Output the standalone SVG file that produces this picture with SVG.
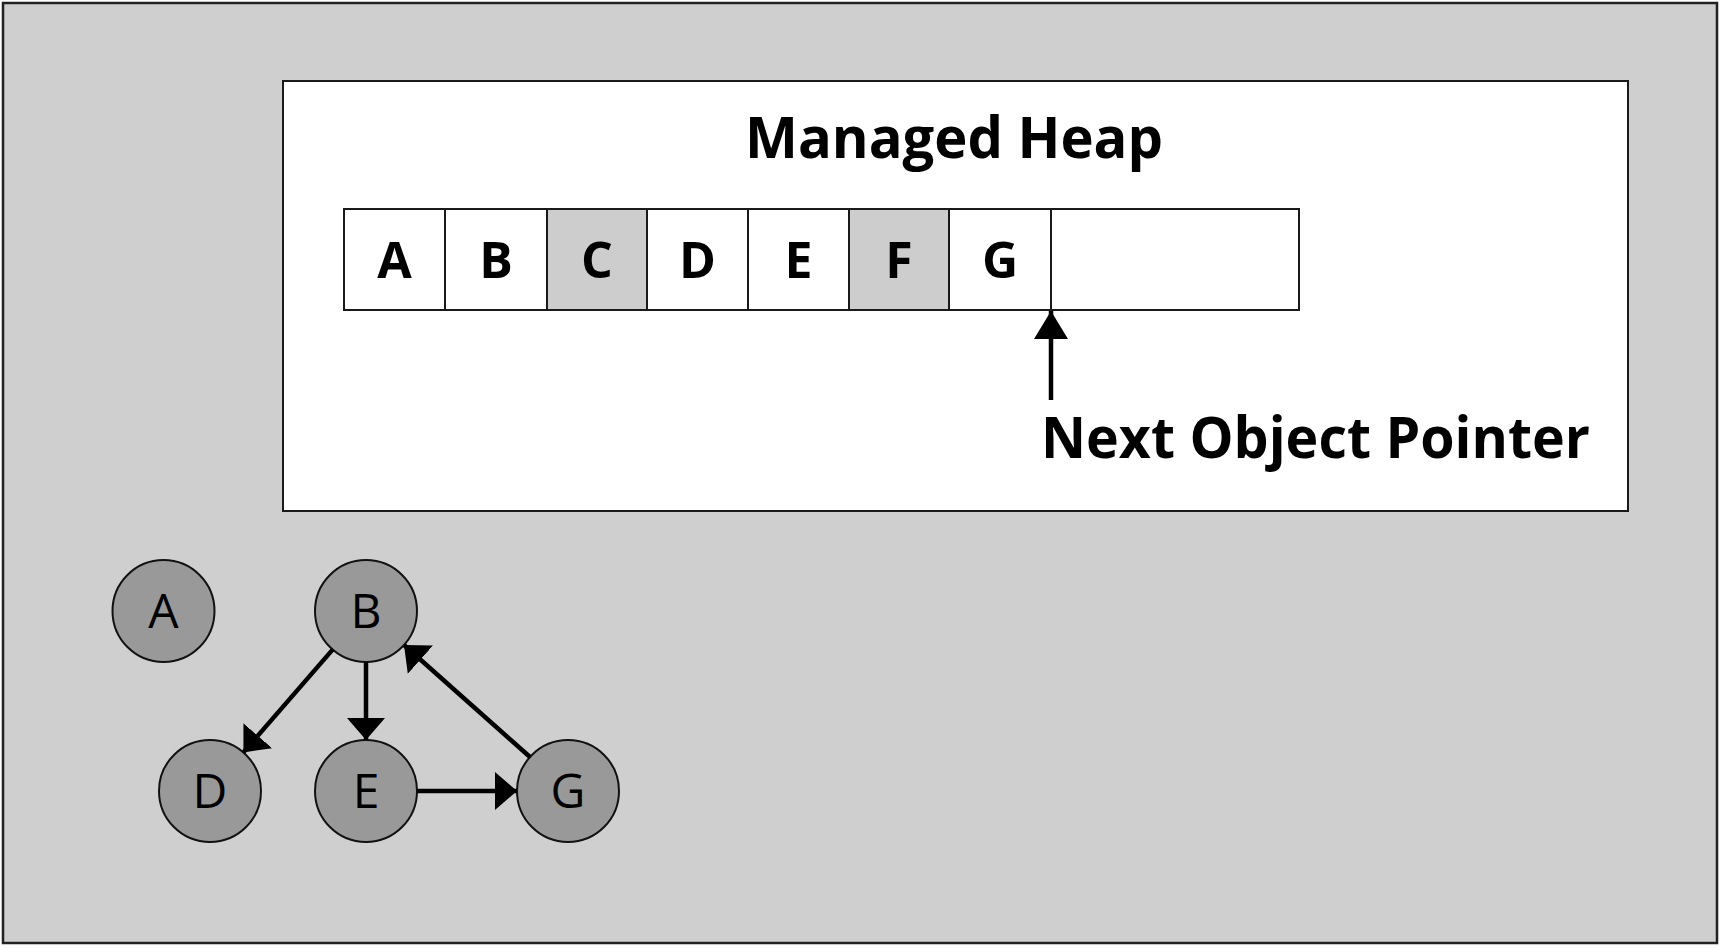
<svg xmlns="http://www.w3.org/2000/svg" width="1725" height="948" viewBox="0 0 1725 948">
<style>
.cell{fill:#ffffff;stroke:#1a1a1a;stroke-width:2}
.cell.g{fill:#cdcdcd}
.cl{font-family:"Open Sans","Liberation Sans",sans-serif;font-weight:bold;font-size:50px;text-anchor:middle;fill:#000}
.big{font-family:"Open Sans","Liberation Sans",sans-serif;font-weight:bold;font-size:58px;fill:#000}
.node{fill:#999999;stroke:#111;stroke-width:2}
.nl{font-family:"Open Sans","Liberation Sans",sans-serif;font-size:48px;text-anchor:middle;fill:#000}
.edge{stroke:#000;stroke-width:4.5;fill:none}
</style>
<defs>
<marker id="ah" markerUnits="userSpaceOnUse" markerWidth="24" markerHeight="38" refX="22" refY="19" orient="auto">
<path d="M0,0 L22,19 L0,38 Z" fill="#000"/>
</marker>
<marker id="ahp" markerUnits="userSpaceOnUse" markerWidth="30" markerHeight="34" refX="28" refY="17" orient="auto">
<path d="M0,0 L28,17 L0,34 Z" fill="#000"/>
</marker>
</defs>
<rect x="3" y="3" width="1714" height="940" fill="#cfcfcf" stroke="#222" stroke-width="2.5"/>
<g id="heap">
<rect x="283" y="81" width="1345" height="430" fill="#ffffff" stroke="#1a1a1a" stroke-width="2"/>
<text class="big" x="954" y="158" text-anchor="middle" textLength="418" lengthAdjust="spacingAndGlyphs">Managed Heap</text>
</g>
<g id="cell-A"><rect class="cell" x="344" y="209" width="101" height="101"/><text class="cl" x="394.5" y="278">A</text></g>
<g id="cell-B"><rect class="cell" x="445" y="209" width="102" height="101"/><text class="cl" x="496" y="278">B</text></g>
<g id="cell-C"><rect class="cell g" x="547" y="209" width="100" height="101"/><text class="cl" x="597" y="278">C</text></g>
<g id="cell-D"><rect class="cell" x="647" y="209" width="101" height="101"/><text class="cl" x="697.5" y="278">D</text></g>
<g id="cell-E"><rect class="cell" x="748" y="209" width="101" height="101"/><text class="cl" x="798.5" y="278">E</text></g>
<g id="cell-F"><rect class="cell g" x="849" y="209" width="100" height="101"/><text class="cl" x="899" y="278">F</text></g>
<g id="cell-G"><rect class="cell" x="949" y="209" width="102" height="101"/><text class="cl" x="1000" y="278">G</text></g>
<g id="cell-free"><rect class="cell" x="1051" y="209" width="248" height="101"/></g>
<g id="pointer-label">
<text class="big" x="1041" y="458" textLength="549" lengthAdjust="spacingAndGlyphs">Next Object Pointer</text>
</g>
<g id="node-A"><circle class="node" cx="163.5" cy="611" r="51"/><text class="nl" x="163.5" y="628">A</text></g>
<g id="node-B"><circle class="node" cx="366" cy="611" r="51"/><text class="nl" x="366" y="628">B</text></g>
<g id="node-D"><circle class="node" cx="210" cy="791" r="51"/><text class="nl" x="210" y="808">D</text></g>
<g id="node-E"><circle class="node" cx="366" cy="791" r="51"/><text class="nl" x="366" y="808">E</text></g>
<g id="node-G"><circle class="node" cx="568" cy="791" r="51"/><text class="nl" x="568" y="808">G</text></g>
<g id="connectors">
<line class="edge" x1="1051" y1="400" x2="1051" y2="311" marker-end="url(#ahp)"/>
<line class="edge" x1="332.6" y1="649.6" x2="243.4" y2="752.4" marker-end="url(#ah)"/>
<line class="edge" x1="366" y1="662" x2="366" y2="740" marker-end="url(#ah)"/>
<line class="edge" x1="417" y1="791" x2="517" y2="791" marker-end="url(#ah)"/>
<line class="edge" x1="530" y1="757" x2="404" y2="645" marker-end="url(#ah)"/>
</g>
</svg>
